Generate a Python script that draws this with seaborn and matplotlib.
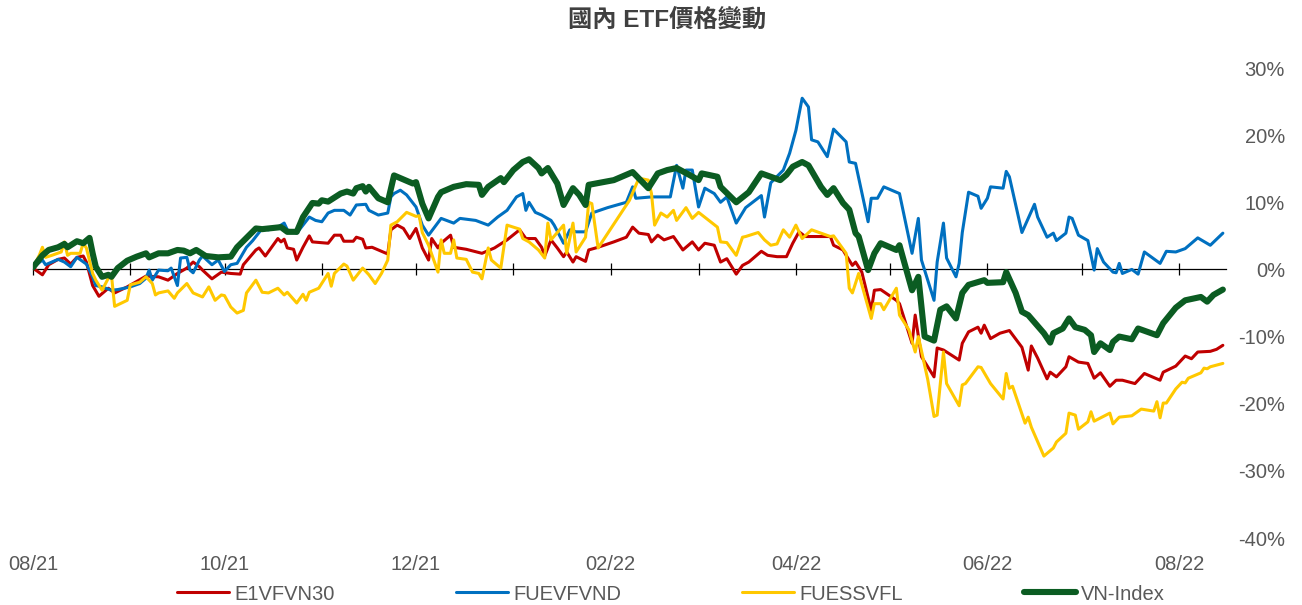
import numpy as np
import pandas as pd
import matplotlib
matplotlib.use("Agg")
import matplotlib.pyplot as plt
import matplotlib.dates as mdates
from matplotlib.ticker import MultipleLocator, FuncFormatter
import seaborn as sns

# day offsets counted from start, values are % change
start = "2021-08-01"
end = "2022-08-16"

e1_day = [0, 3, 5, 8, 10, 12, 14, 16, 17, 19, 21, 24, 26, 30, 36, 40, 43, 46, 49, 51, 53, 54, 57, 60, 63,
          66, 67, 71, 72, 74, 78, 79, 80, 81, 83, 84, 86, 88, 89, 94, 96, 98, 99, 102, 103, 105, 106, 108, 110,
          113, 114, 116, 118, 120, 122, 124, 126, 127, 129, 130, 133, 134, 138, 143, 147, 151, 155, 157, 160,
          162, 163, 165, 167, 169, 170, 172, 173, 176, 177, 180, 185, 189, 191, 193, 196, 197, 199, 201, 204,
          207, 210, 212, 214, 217, 219, 221, 224, 226, 228, 232, 234, 237, 240, 242, 244, 246, 250, 254, 255,
          258, 259, 261, 262, 264, 267, 268, 270, 275, 276, 280, 281, 283, 287, 288, 290, 295, 296, 298, 301,
          302, 303, 305, 308, 311, 315, 317, 318, 320, 323, 324, 326, 329, 330, 333, 336, 338, 340, 343, 345,
          347, 351, 354, 359, 360, 364, 367, 369, 371, 375, 377, 379]
e1_pct = [0.2, -0.8, 0.7, 1.5, 1.7, 0.8, 1.8, 2.0, 1.1, -2.4, -4.0, -2.8, -3.5, -2.6, -1.0, -1.1, -1.6, -0.6,
          0.2, 1.1, 0.4, -0.1, -1.4, -0.4, -0.6, -0.7, 0.7, 2.9, 3.2, 2.0, 4.6, 4.1, 4.5, 3.2, 3.0, 1.4, 3.3,
          5.0, 4.1, 3.9, 5.1, 5.1, 4.2, 4.2, 4.8, 4.5, 3.2, 3.3, 2.9, 2.3, 5.9, 6.6, 6.1, 4.6, 6.1, 3.2, 1.4,
          4.6, 3.2, 3.9, 5.1, 3.3, 3.0, 2.4, 3.2, 4.4, 5.9, 4.6, 4.6, 3.3, 2.0, 4.4, 3.2, 1.9, 2.6, 1.1, 1.9,
          1.2, 2.9, 3.3, 4.1, 4.8, 6.3, 5.4, 5.2, 4.1, 5.1, 4.4, 4.9, 2.9, 4.1, 2.9, 3.9, 3.6, 1.1, 1.6, -0.7,
          0.6, 1.1, 2.7, 2.1, 1.9, 1.9, 3.9, 5.6, 4.9, 4.9, 4.9, 3.6, 2.9, 2.1, 0.6, 1.1, -0.4, -6.1, -3.1,
          -3.0, -4.6, -5.1, -11.0, -6.8, -13.0, -16.0, -11.7, -12.0, -13.5, -11.0, -9.3, -8.6, -9.5, -8.3,
          -10.3, -9.5, -9.1, -11.6, -15.0, -11.4, -13.2, -16.3, -15.3, -16.0, -14.5, -13.0, -13.8, -14.0,
          -16.2, -15.4, -17.4, -16.5, -16.5, -17.0, -15.5, -16.5, -15.3, -14.4, -12.9, -13.3, -12.3, -12.2,
          -11.9, -11.3]

fuev_day = [0, 3, 4, 8, 10, 12, 14, 17, 19, 20, 22, 25, 27, 31, 34, 36, 37, 38, 40, 43, 44, 46, 47, 49, 50,
            51, 53, 54, 57, 59, 61, 63, 65, 68, 70, 73, 75, 78, 80, 81, 84, 88, 90, 92, 94, 96, 99, 101, 103,
            106, 107, 110, 113, 114, 115, 117, 119, 121, 122, 124, 126, 130, 134, 136, 141, 145, 148, 151, 154,
            156, 157, 158, 160, 162, 165, 166, 169, 171, 173, 176, 178, 183, 189, 191, 192, 197, 203, 205, 207,
            208, 210, 212, 214, 217, 219, 221, 224, 227, 232, 233, 235, 239, 241, 243, 245, 247, 248, 250, 253,
            255, 259, 260, 262, 266, 267, 269, 271, 276, 280, 282, 283, 287, 288, 290, 291, 294, 295, 296, 298,
            301, 302, 304, 305, 309, 310, 311, 315, 317, 319, 320, 323, 325, 326, 329, 330, 331, 333, 336, 338,
            339, 341, 344, 345, 346, 347, 350, 352, 354, 359, 361, 364, 367, 371, 375, 379]
fuev_pct = [0.3, 1.4, 0.7, 1.5, 1.1, 0.4, 1.8, 0.8, -1.1, -2.4, -2.6, -3.1, -3.0, -2.6, -2.1, -1.3, -0.1,
            -1.6, -0.1, -0.2, 0.2, -2.4, 1.7, 1.8, -0.1, -0.5, 1.4, 2.0, 0.7, 1.4, -0.3, 0.7, 0.9, 3.3, 4.3,
            6.1, 5.9, 6.3, 6.9, 5.9, 5.4, 7.8, 7.3, 7.1, 8.4, 8.8, 8.8, 8.1, 9.6, 9.7, 8.8, 8.1, 8.4, 10.8,
            11.3, 11.8, 11.1, 9.9, 9.3, 6.6, 5.1, 7.6, 6.9, 7.6, 7.3, 6.6, 7.8, 8.8, 10.8, 11.3, 8.8, 10.0,
            8.5, 8.1, 7.3, 6.6, 3.9, 5.9, 5.6, 5.6, 8.4, 9.2, 10.0, 12.3, 10.6, 10.8, 10.8, 15.5, 12.1, 14.8,
            14.8, 9.3, 12.1, 11.3, 10.0, 10.8, 6.9, 9.2, 11.0, 7.8, 12.9, 14.8, 17.3, 20.7, 25.5, 24.2, 19.3,
            19.0, 16.8, 20.9, 19.0, 16.0, 15.8, 7.1, 10.6, 10.6, 12.3, 11.3, 2.4, 7.6, 1.4, -4.6, 1.1, 6.9,
            1.7, -1.1, 0.9, 5.5, 11.5, 10.9, 9.1, 10.6, 12.3, 12.1, 14.6, 13.8, 5.5, 7.6, 9.7, 7.8, 4.8, 5.4,
            4.3, 5.4, 7.8, 7.6, 5.1, 4.3, -0.1, 3.1, 1.1, -0.4, -0.5, 0.9, -0.6, 0.0, -0.7, 2.6, 0.9, 2.7,
            2.6, 3.1, 4.7, 3.6, 5.4]

fues_day = [0, 2, 3, 4, 6, 9, 10, 11, 12, 15, 16, 17, 19, 20, 22, 24, 25, 26, 30, 31, 34, 36, 38, 39, 40,
            43, 45, 46, 49, 51, 54, 56, 58, 60, 61, 63, 65, 67, 68, 71, 73, 75, 78, 80, 81, 84, 86, 87, 88,
            91, 94, 95, 96, 99, 100, 102, 105, 107, 109, 111, 113, 114, 116, 119, 122, 123, 124, 126, 129, 130,
            131, 133, 134, 135, 138, 140, 142, 143, 145, 146, 149, 151, 155, 156, 158, 161, 163, 164, 165, 169,
            170, 172, 173, 176, 177, 178, 180, 190, 193, 196, 197, 198, 200, 202, 204, 205, 208, 210, 212, 218,
            219, 221, 224, 226, 227, 231, 233, 235, 237, 239, 241, 243, 245, 248, 251, 254, 255, 259, 260, 261,
            263, 267, 268, 270, 271, 275, 276, 279, 281, 282, 285, 287, 288, 290, 291, 295, 296, 297, 301, 302,
            305, 309, 310, 311, 312, 316, 317, 318, 322, 325, 326, 329, 330, 332, 333, 336, 337, 338, 343, 344,
            346, 350, 353, 357, 358, 359, 360, 361, 364, 366, 367, 368, 372, 373, 374, 375, 379]
fues_pct = [0.3, 2.1, 3.3, 1.8, 2.1, 2.6, 4.1, 2.1, 2.4, 2.4, 3.9, 3.2, -0.6, -1.6, -3.1, -1.3, -0.9, -5.5,
            -4.6, -2.3, -1.9, -1.1, -2.1, -3.8, -3.5, -3.2, -4.3, -3.5, -2.1, -3.5, -4.1, -2.6, -4.6, -3.8,
            -3.9, -5.6, -6.5, -6.1, -3.5, -1.6, -3.4, -3.5, -2.8, -3.8, -3.4, -5.0, -3.7, -4.6, -3.4, -2.8,
            -0.6, -2.5, -0.6, 0.8, 0.5, -1.6, 0.2, -0.8, -2.1, -0.6, 1.4, 6.6, 7.1, 8.5, 7.9, 8.0, 5.5, 3.6,
            -0.4, 4.4, 2.4, 2.4, 4.4, 1.7, 1.5, -0.4, -0.6, -1.4, 3.2, 1.4, 0.2, 6.6, 6.0, 4.6, 4.1, 2.9, 1.7,
            6.9, 4.4, 6.6, 2.4, 6.9, 2.6, 4.8, 10.0, 9.8, 3.2, 10.3, 13.6, 13.3, 11.3, 6.6, 8.4, 7.8, 8.8, 7.3,
            9.2, 7.6, 8.5, 6.3, 4.1, 4.0, 2.1, 4.8, 4.9, 5.5, 4.4, 3.6, 3.8, 5.9, 4.8, 6.6, 4.6, 5.9, 5.4,
            4.9, 5.0, 2.4, -2.8, -3.5, -0.6, -7.3, -5.1, -5.1, -6.0, -2.8, -6.8, -9.0, -12.3, -10.0, -16.4,
            -21.9, -21.7, -12.3, -17.0, -20.3, -17.2, -17.0, -14.5, -14.6, -17.0, -19.3, -15.5, -17.7, -17.4,
            -22.9, -22.0, -23.5, -27.8, -26.6, -25.7, -24.4, -21.4, -21.7, -23.8, -22.7, -21.2, -22.6, -21.4,
            -23.0, -22.0, -21.8, -20.8, -21.1, -19.7, -22.1, -19.9, -19.9, -17.8, -16.8, -16.9, -16.2, -15.4,
            -14.7, -14.8, -14.5, -14.0]

vn_day = [0, 3, 5, 8, 10, 11, 14, 16, 18, 19, 20, 22, 24, 25, 27, 30, 33, 36, 37, 40, 43, 46, 48, 50, 52, 55,
          59, 63, 65, 68, 71, 73, 79, 81, 84, 86, 89, 91, 92, 94, 98, 100, 102, 103, 105, 106, 107, 110, 113,
          115, 117, 121, 122, 124, 126, 129, 130, 134, 138, 142, 143, 145, 149, 150, 153, 156, 158, 161, 162,
          164, 167, 169, 172, 174, 176, 177, 185, 191, 196, 199, 202, 205, 209, 212, 213, 218, 219, 224, 228,
          232, 238, 240, 242, 245, 247, 251, 253, 255, 258, 260, 262, 263, 266, 268, 270, 275, 276, 280, 282,
          284, 287, 289, 291, 294, 296, 298, 303, 304, 309, 310, 313, 315, 317, 322, 324, 325, 328, 330, 332,
          335, 337, 338, 340, 343, 344, 346, 350, 352, 358, 360, 364, 367, 372, 374, 376, 379]
vn_pct = [0.3, 2.1, 2.9, 3.3, 3.8, 3.3, 4.2, 3.9, 4.7, 2.4, 0.4, -1.1, -0.8, -1.1, 0.2, 1.3, 1.9, 2.4, 1.8,
          2.4, 2.4, 2.9, 2.8, 2.4, 2.9, 2.0, 1.8, 1.9, 3.3, 4.7, 6.1, 6.0, 6.3, 5.6, 5.6, 7.8, 9.9, 9.8, 10.3,
          10.1, 11.3, 11.6, 11.3, 12.1, 12.4, 11.6, 12.3, 10.6, 10.0, 14.0, 13.6, 12.8, 13.0, 9.8, 7.6, 10.8,
          11.5, 12.3, 12.7, 12.6, 11.1, 12.3, 13.6, 13.0, 14.8, 16.0, 16.4, 15.1, 14.3, 15.1, 12.8, 9.6, 12.1,
          11.1, 9.6, 12.6, 13.3, 14.5, 12.1, 14.3, 14.8, 15.1, 14.1, 13.3, 14.3, 13.8, 12.3, 10.0, 11.5, 14.3,
          13.3, 14.1, 15.3, 16.0, 15.5, 12.3, 11.1, 12.1, 9.9, 8.9, 5.4, 4.9, -0.1, 2.4, 3.9, 2.9, 3.6, -3.1,
          -1.1, -10.0, -10.6, -6.0, -5.5, -7.3, -3.5, -2.3, -1.6, -2.0, -1.9, -0.4, -3.5, -6.3, -6.8, -9.5,
          -10.9, -9.5, -8.8, -7.3, -8.6, -9.0, -9.8, -12.3, -11.0, -12.0, -10.8, -10.0, -10.4, -8.8, -9.8,
          -8.0, -5.7, -4.6, -4.1, -4.8, -3.8, -3.0]

names = ["E1VFVN30", "FUEVFVND", "FUESSVFL", "VN-Index"]
days = [e1_day, fuev_day, fues_day, vn_day]
pcts = [e1_pct, fuev_pct, fues_pct, vn_pct]
colors = ["#C00000", "#0070C0", "#FFC800", "#0B5C22"]
widths = [2.2, 2.2, 2.2, 4.4]

sns.set_theme(style="white")
plt.rcParams["font.family"] = ["Liberation Sans", "Noto Sans CJK TC", "DejaVu Sans"]
grey = "#595959"

fig = plt.figure(figsize=(13.02, 6.05), dpi=100)
ax = fig.add_axes([33 / 1302, 1 - 538 / 605, (1226 - 33) / 1302, 470 / 605])

t0 = pd.Timestamp(start)
for name, d, p, c, lw in zip(names, days, pcts, colors, widths):
    dates = t0 + pd.to_timedelta(d, unit="D")
    df = pd.DataFrame({"date": mdates.date2num(dates), "pct": p})
    sns.lineplot(data=df, x="date", y="pct", ax=ax, color=c, linewidth=lw, label=name, zorder=3)

ax.set_xlim(mdates.date2num(pd.Timestamp(start)), mdates.date2num(pd.Timestamp(end)))
ax.set_ylim(-40, 30)
ax.set_xlabel("")
ax.set_ylabel("")
ax.grid(False)

# y axis on the right, right aligned labels
ax.yaxis.tick_right()
ax.yaxis.set_major_locator(MultipleLocator(10))
ax.yaxis.set_major_formatter(FuncFormatter(lambda v, pos: f"{int(round(v))}%"))
ax.tick_params(axis="y", length=0, pad=42.5, labelsize=14.5, labelcolor=grey)
plt.setp(ax.get_yticklabels(), ha="right")

# zero line with monthly tick marks
for s in ["top", "left", "right"]:
    ax.spines[s].set_visible(False)
ax.spines["bottom"].set_position(("data", 0))
ax.spines["bottom"].set_color("black")
ax.spines["bottom"].set_linewidth(0.9)
ax.xaxis.set_major_locator(mdates.MonthLocator())
ax.tick_params(axis="x", bottom=True, direction="inout", length=8, width=0.9, color="black",
               labelbottom=False)

# date labels along the bottom
sec = ax.secondary_xaxis("bottom")
sec.xaxis.set_major_locator(mdates.MonthLocator(bymonth=[2, 4, 6, 8, 10, 12]))
sec.xaxis.set_major_formatter(mdates.DateFormatter("%m/%y"))
sec.spines["bottom"].set_visible(False)
sec.tick_params(length=0, pad=12, labelsize=14.5, labelcolor=grey)

handles, labels = ax.get_legend_handles_labels()
ax.legend(handles, labels, loc="center", bbox_to_anchor=(671 / 1302, 1 - 594 / 605),
          bbox_transform=fig.transFigure, ncol=4, frameon=False, fontsize=14.5,
          handlelength=2.6, handletextpad=0.25, columnspacing=6.0, labelcolor=grey)

fig.text(667 / 1302, 1 - 20 / 605, "國內 ETF價格變動", ha="center", va="center",
         fontsize=17.5, fontweight="bold", color="#404040")

fig.savefig("out.png", dpi=100)
